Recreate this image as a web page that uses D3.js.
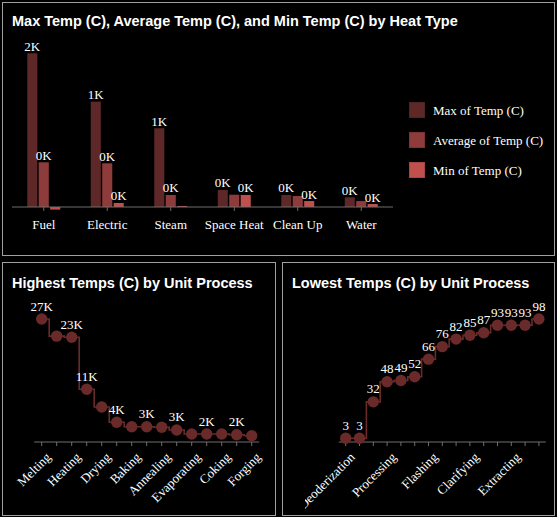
<!DOCTYPE html>
<html><head><meta charset="utf-8">
<script src="https://cdn.jsdelivr.net/npm/d3@7"></script>
<style>
html,body{margin:0;padding:0;background:#000;}
svg{display:block;}
.lbl{font-family:"Liberation Serif","Times New Roman",serif;font-size:13px;fill:#fff;}
.ttl{font-family:"Liberation Sans",Arial,sans-serif;font-size:14.5px;font-weight:bold;fill:#fff;}
</style></head><body>
<svg id="c" width="557" height="517"></svg>
<script>
// ---------- data ----------
const heatTypes = ["Fuel", "Electric", "Steam", "Space Heat", "Clean Up", "Water"];
const seriesNames = ["Max of Temp (C)", "Average of Temp (C)", "Min of Temp (C)"];
const maxTemp = [1650, 1131, 845, 183, 129, 104];
const avgTemp = [480, 469, 129, 132, 118, 64];
const minTemp = [-28, 43, 11, 129, 64, 32];

const highProcesses = ["Melting", "Smelting", "Heating", "Calcining", "Drying", "Firing", "Baking", "Curing",
  "Annealing", "Distilling", "Evaporating", "Roasting", "Coking", "Boiling", "Forging"];
const highTemps = [26600, 22900, 22650, 11400, 7570, 4260, 3310, 3300, 3180, 2600, 1730, 1730, 1720, 1580, 1360];

const lowProcesses = ["Deoderization", "Washing", "Rinsing", "Processing", "Blanching", "Pasteurizing", "Flashing",
  "Sterilizing", "Brewing", "Clarifying", "Fermenting", "Dyeing", "Extracting", "Soaking", "Tempering"];
const lowTemps = [3, 3, 32, 48, 49, 52, 66, 76, 82, 85, 87, 93, 93, 93, 98];

const titles = ["Max Temp (C), Average Temp (C), and Min Temp (C) by Heat Type",
  "Highest Temps (C) by Unit Process", "Lowest Temps (C) by Unit Process"];

// ---------- style ----------
const seriesColors = ["#5e2828", "#8e3b3b", "#c0504d"];
const pointColor = "#6b2a2a";
const axisColor = "#6e6e6e";
const borderColor = "#a0a0a0";

const svg = d3.select("#c");
svg.append("rect").attr("width", 557).attr("height", 517).attr("fill", "#000");

// panels
[[2.5, 2.5, 552, 253], [2.5, 262.5, 273, 253], [282.5, 262.5, 272, 253]].forEach(p => {
  svg.append("rect").attr("x", p[0]).attr("y", p[1]).attr("width", p[2]).attr("height", p[3])
    .attr("fill", "none").attr("stroke", borderColor).attr("stroke-width", 1);
});
svg.append("text").attr("class", "ttl").attr("x", 12).attr("y", 26).text(titles[0]);
svg.append("text").attr("class", "ttl").attr("x", 12).attr("y", 288).text(titles[1]);
svg.append("text").attr("class", "ttl").attr("x", 292).attr("y", 288).text(titles[2]);

const fmtK = v => d3.format(".0f")(v / 1000) + "K";

// greedy label collision: hide a label if it overlaps an earlier visible one
function declutter(sel, vpad) {
  const kept = [];
  sel.each(function () {
    const b = this.getBBox();
    const box = {x0: b.x, x1: b.x + b.width, y0: b.y - vpad, y1: b.y + b.height + vpad};
    const hit = kept.some(k => box.x0 < k.x1 - 0.01 && box.x1 > k.x0 + 0.01 && box.y0 < k.y1 && box.y1 > k.y0);
    if (hit) d3.select(this).remove(); else kept.push(box);
  });
}

// ---------- bar chart ----------
(function () {
  const base = 207;
  const x0 = d3.scaleBand().domain(heatTypes).range([12, 393]).padding(0);
  const inner = d3.scaleBand().domain(seriesNames).paddingInner(0.12);
  const y = d3.scaleLinear().domain([0, d3.max(maxTemp)]).range([base, 53.3]);
  const series = [maxTemp, avgTemp, minTemp];
  const g = svg.append("g");
  heatTypes.forEach((h, i) => {
    const c = x0(h) + x0.bandwidth() / 2;
    inner.range([c - 16.5, c + 16.5]);
    series.forEach((s, j) => {
      const v = s[i];
      g.append("rect").attr("x", inner(seriesNames[j])).attr("width", inner.bandwidth())
        .attr("y", Math.min(y(v), y(0))).attr("height", Math.abs(y(v) - y(0)))
        .attr("fill", seriesColors[j]);
    });
  });
  // axis
  g.append("line").attr("x1", 12).attr("x2", 393).attr("y1", base).attr("y2", base).attr("stroke", axisColor);
  heatTypes.forEach(h => {
    const c = x0(h) + x0.bandwidth() / 2;
    g.append("line").attr("x1", c).attr("x2", c).attr("y1", base).attr("y2", base + 4).attr("stroke", axisColor);
    g.append("text").attr("class", "lbl").attr("x", c).attr("y", 229).attr("text-anchor", "middle").text(h);
  });
  // data labels
  const lg = svg.append("g");
  heatTypes.forEach((h, i) => {
    const c = x0(h) + x0.bandwidth() / 2;
    inner.range([c - 16.5, c + 16.5]);
    series.forEach((s, j) => {
      const v = s[i];
      if (v < 0) return;
      lg.append("text").attr("class", "lbl dl").attr("x", inner(seriesNames[j]) + inner.bandwidth() / 2)
        .attr("y", y(v) - 2.5).attr("text-anchor", "middle").text(fmtK(v));
    });
  });
  declutter(lg.selectAll("text.dl"), 2);
  // legend
  seriesNames.forEach((n, j) => {
    const yy = 102.5 + j * 30;
    svg.append("rect").attr("x", 409.5).attr("y", yy).attr("width", 15).attr("height", 15)
      .attr("fill", seriesColors[j]).attr("stroke", d3.color(seriesColors[j]).darker(0.4)).attr("stroke-width", 1);
    svg.append("text").attr("class", "lbl").attr("x", 433).attr("y", yy + 12.5).text(n);
  });
})();

// ---------- step charts ----------
function stepChart(cats, vals, x0, x1, fmt, clipX) {
  const base = 442;
  const x = d3.scalePoint().domain(cats).range([x0, x1]).padding(0.5);
  const y = d3.scaleLinear().domain([0, d3.max(vals)]).range([base, 319]);
  const g = svg.append("g");
  // axis
  g.append("line").attr("x1", x0).attr("x2", x1).attr("y1", base).attr("y2", base).attr("stroke", axisColor);
  const k = Math.ceil(29 / x.step());
  let clipId = null;
  if (clipX != null) {
    clipId = "clip" + Math.round(clipX);
    svg.append("clipPath").attr("id", clipId).append("rect").attr("x", clipX).attr("y", 0).attr("width", 557).attr("height", 517);
  }
  const tl = g.append("g");
  if (clipId) tl.attr("clip-path", `url(#${clipId})`);
  cats.forEach((c, i) => {
    g.append("line").attr("x1", x(c)).attr("x2", x(c)).attr("y1", base).attr("y2", base + 4).attr("stroke", axisColor);
    if (i % k === 0) {
      tl.append("text").attr("class", "lbl").attr("text-anchor", "end")
        .attr("transform", `translate(${x(c) + 10},${base + 16}) rotate(-45)`).text(c);
    }
  });
  // line
  const line = d3.line().x((d, i) => x(cats[i])).y(d => y(d)).curve(d3.curveStep);
  g.append("path").attr("d", line(vals)).attr("fill", "none").attr("stroke", pointColor).attr("stroke-width", 1.6);
  g.selectAll("circle").data(vals).join("circle")
    .attr("cx", (d, i) => x(cats[i])).attr("cy", d => y(d)).attr("r", 5.7).attr("fill", pointColor);
  const lg = g.append("g");
  vals.forEach((v, i) => {
    lg.append("text").attr("class", "lbl dl").attr("x", x(cats[i])).attr("y", y(v) - 8.5)
      .attr("text-anchor", "middle").text(fmt(v));
  });
  declutter(lg.selectAll("text.dl"), 2);
}
stepChart(highProcesses, highTemps, 34.2, 259.2, fmtK, null);
stepChart(lowProcesses, lowTemps, 338.8, 545.8, d3.format(".0f"), 305);
</script>
</body></html>
